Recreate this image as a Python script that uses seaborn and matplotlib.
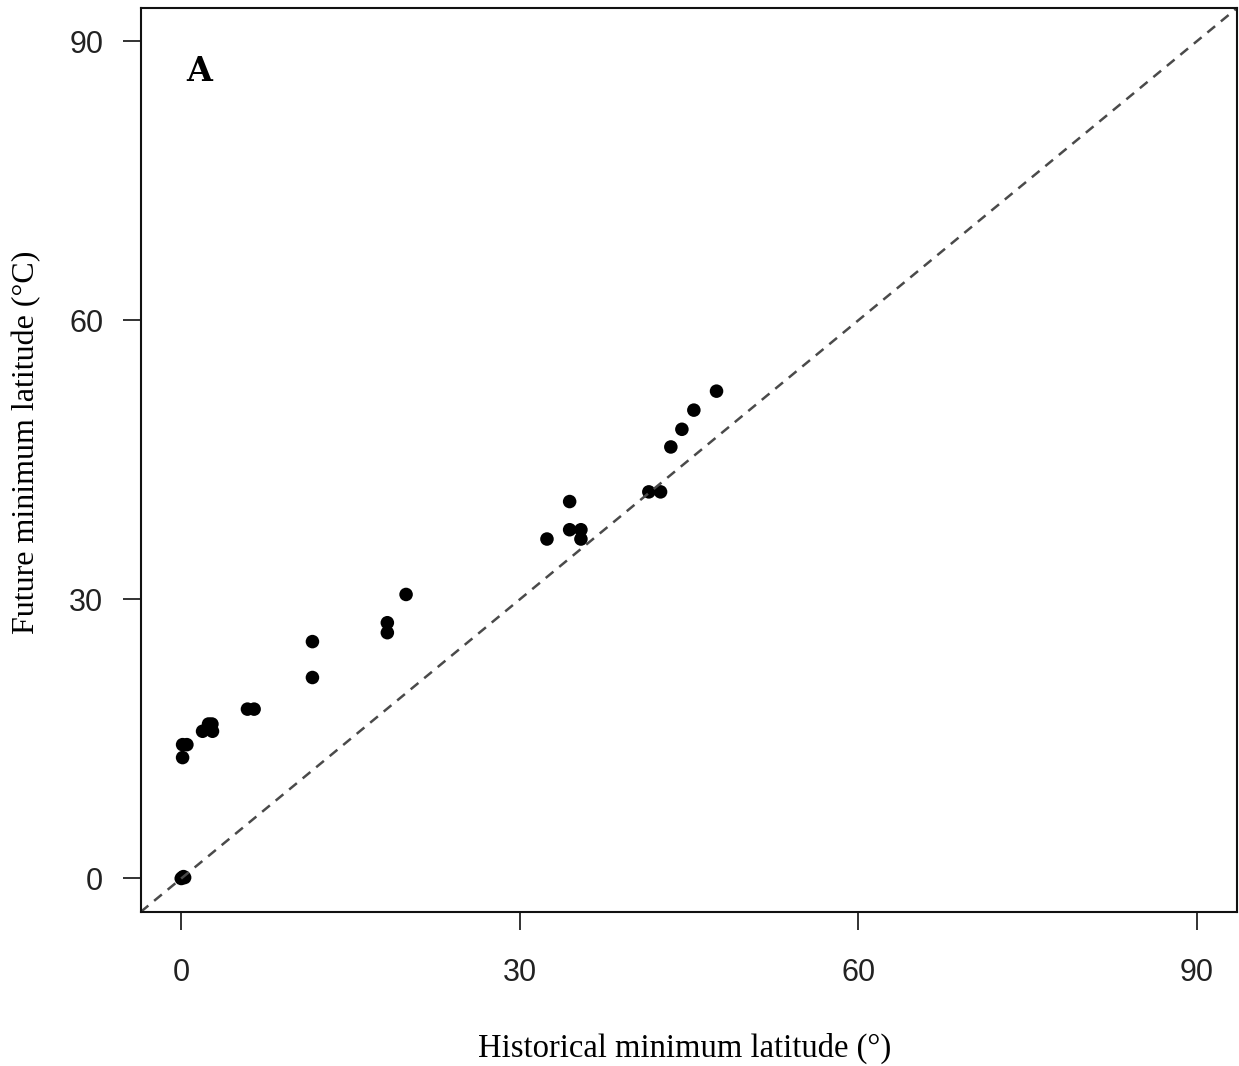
import matplotlib
matplotlib.use("Agg")
import matplotlib.pyplot as plt
import seaborn as sns
import pandas as pd

# Data
historical_min_lat = [0.0, 0.1, 0.2, 0.3, 0.12, 0.12, 0.5, 1.89, 2.42, 2.72, 2.77,
                      5.87, 6.46, 11.63, 11.63, 18.27, 18.27, 19.93, 32.42, 34.43,
                      34.43, 35.43, 35.43, 41.45, 42.49, 43.4, 44.38, 45.44, 47.45]
future_min_lat = [0.0, 0.1, 0.2, 0.1, 13.0, 14.39, 14.39, 15.83, 16.61, 16.61, 15.83,
                  18.21, 18.21, 25.47, 21.61, 27.5, 26.43, 30.54, 36.5, 40.53,
                  37.5, 37.5, 36.5, 41.57, 41.57, 46.4, 48.3, 50.36, 52.4]
tick_values = [0, 30, 60, 90]
x_label = "Historical minimum latitude (°)"
y_label = "Future minimum latitude (°C)"
panel_label = "A"

df = pd.DataFrame({"hist": historical_min_lat, "fut": future_min_lat})

sns.set_theme(style="white")
plt.rcParams["font.family"] = ["Liberation Sans", "DejaVu Sans"]

fig = plt.figure(figsize=(12.39, 10.66), dpi=100)
ax = fig.add_axes([0.1135, 0.1445, 0.885, 0.848])

sns.scatterplot(data=df, x="hist", y="fut", ax=ax, color="black", s=95,
                edgecolor="none", linewidth=0)
ax.axline((0, 0), slope=1, color="#4a4a4a", linestyle=(0, (4, 3)), linewidth=1.8)

ax.set_xlim(-3.6, 93.6)
ax.set_ylim(-3.6, 93.6)
ax.set_xticks(tick_values)
ax.set_yticks(tick_values)
ax.tick_params(axis="both", direction="out", length=13, width=1.3, color="#222222",
               labelsize=22, labelcolor="#222222", bottom=True, left=True)
ax.tick_params(axis="x", pad=20)
ax.tick_params(axis="y", pad=14)

for sp in ax.spines.values():
    sp.set_visible(True)
    sp.set_color("#111111")
    sp.set_linewidth(1.5)

ax.set_xlabel(x_label, family=["Liberation Serif", "DejaVu Serif"], fontsize=23.5,
              color="black")
ax.set_ylabel(y_label, family=["Liberation Serif", "DejaVu Serif"], fontsize=23,
              color="black")
ax.xaxis.set_label_coords(0.496, -0.134)
ax.yaxis.set_label_coords(-0.091, 0.52)

ax.text(0.042, 0.93, panel_label, transform=ax.transAxes, fontsize=24,
        fontweight="bold", family=["DejaVu Serif"], color="black",
        ha="left", va="center")

fig.savefig("out.png", dpi=100)
